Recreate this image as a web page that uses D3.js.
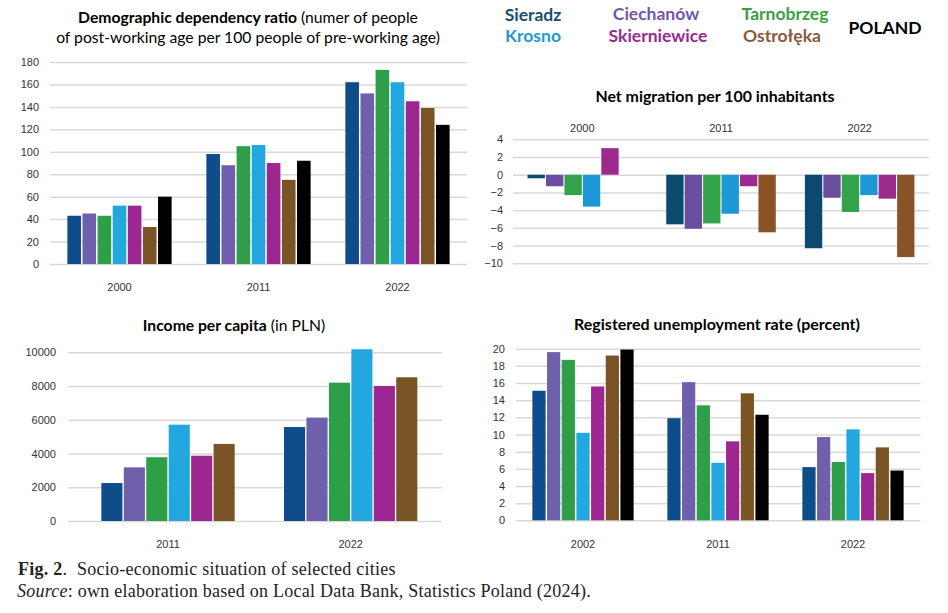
<!DOCTYPE html>
<html lang="en">

<head>
    <meta charset="UTF-8">
    <title>Socio-economic situation of selected cities</title>
    <style>
        body { margin: 0; background: #fff; }
    </style>
</head>

<body>
    <script type="text/javascript" src="https://cdn.jsdelivr.net/npm/d3@7"></script>
    <script type="text/javascript">
    var cities = ["Sieradz", "Ciechanów", "Tarnobrzeg", "Krosno", "Skierniewice", "Ostrołęka", "POLAND"];
    var barColors = ["#0f4c8a", "#7060ab", "#2f9e48", "#22a7df", "#9c2790", "#7a5424", "#000000"];
    var migColors = ["#0b4a6f", "#6c4ea0", "#34a24a", "#1d98d6", "#9b2a8c", "#8a5428"];
    var legendColors = ["#1a4e6e", "#7257a8", "#3c9e45", "#1f9ad4", "#9a2a8e", "#885a3d", "#000000"];

    // demographic dependency ratio
    var depYears = ["2000", "2011", "2022"];
    var depValues = [
        [43, 45, 43, 52, 52, 33, 60],
        [98, 88, 105, 106, 90, 75, 92],
        [162, 152, 173, 162, 145, 139, 124]
    ];
    var depTicks = [0, 20, 40, 60, 80, 100, 120, 140, 160, 180];

    // net migration (no POLAND bar, Ostrołęka missing in 2000)
    var migYears = ["2000", "2011", "2022"];
    var migValues = [
        [-0.4, -1.3, -2.3, -3.6, 3.0, null],
        [-5.6, -6.1, -5.5, -4.4, -1.3, -6.5],
        [-8.3, -2.6, -4.2, -2.3, -2.7, -9.3]
    ];
    var migTicks = [-10, -8, -6, -4, -2, 0, 2, 4];

    // income per capita
    var incYears = ["2011", "2022"];
    var incValues = [
        [2250, 3180, 3780, 5710, 3870, 4570],
        [5570, 6130, 8200, 10180, 8000, 8520]
    ];
    var incTicks = [0, 2000, 4000, 6000, 8000, 10000];

    // registered unemployment rate
    var unYears = ["2002", "2011", "2022"];
    var unValues = [
        [15.1, 19.6, 18.7, 10.2, 15.6, 19.2, 19.9],
        [11.9, 16.1, 13.4, 6.7, 9.2, 14.8, 12.3],
        [6.2, 9.7, 6.8, 10.6, 5.5, 8.5, 5.8]
    ];
    var unTicks = [0, 2, 4, 6, 8, 10, 12, 14, 16, 18, 20];

    var w = 948,
        h = 613,
        titleFont = "Lato, 'Open Sans', sans-serif",
        axisFont = "'Liberation Sans', Arial, sans-serif";

    var svg = d3.select("body")
        .append("svg")
        .attr("width", w)
        .attr("height", h);

    svg.append("rect")
        .attr("width", w)
        .attr("height", h)
        .attr("fill", "#fff");

    function drawPanel(p) {
        var g = svg.append("g");

        var y = d3.scaleLinear()
            .domain(p.yDomain)
            .range([p.bottom, p.top]);

        var x0 = d3.scaleBand()
            .domain(p.years)
            .range([p.bandLeft, p.bandRight])
            .paddingInner(p.groupPad)
            .paddingOuter(p.groupPad / 2);

        var x1 = d3.scaleBand()
            .domain(d3.range(p.values[0].length))
            .range([0, x0.bandwidth()])
            .paddingInner(p.barPad);

        // grid lines + tick labels
        var yAxis = g.append("g")
            .attr("transform", "translate(" + p.gridLeft + ",0)")
            .call(d3.axisLeft(y)
                .tickValues(p.ticks)
                .tickFormat(d3.format("d"))
                .tickSize(-(p.gridRight - p.gridLeft))
                .tickPadding(p.gridLeft - p.labelRight));
        yAxis.select(".domain").remove();
        yAxis.selectAll(".tick line")
            .attr("stroke", "#d9d9d9")
            .attr("stroke-width", 1.5);
        yAxis.selectAll(".tick text")
            .attr("font-family", axisFont)
            .attr("font-size", "11px")
            .attr("fill", "#333");

        // year labels
        var xAxis = g.append("g")
            .attr("transform", "translate(0," + p.yearY + ")")
            .call((p.yearsOnTop ? d3.axisTop(x0) : d3.axisBottom(x0)).tickSize(0).tickPadding(0));
        xAxis.select(".domain").remove();
        xAxis.selectAll(".tick text")
            .attr("font-family", axisFont)
            .attr("font-size", "11px")
            .attr("fill", "#333");

        var groups = g.selectAll(".grp")
            .data(p.values)
            .enter()
            .append("g")
            .attr("transform", function(d, i) {
                return "translate(" + x0(p.years[i]) + ",0)";
            });

        groups.selectAll("rect")
            .data(function(d) {
                return d.map(function(v, i) { return {i: i, v: v}; })
                    .filter(function(e) { return e.v !== null; });
            })
            .enter()
            .append("rect")
            .attr("x", function(d) { return x1(d.i); })
            .attr("y", function(d) { return y(Math.max(0, d.v)); })
            .attr("width", x1.bandwidth())
            .attr("height", function(d) { return Math.abs(y(d.v) - y(0)); })
            .attr("fill", function(d) { return p.colors[d.i]; });

        // title, bold part then normal part
        p.title.forEach(function(line) {
            var t = g.append("text")
                .attr("x", p.titleX)
                .attr("y", line.y)
                .attr("text-anchor", "middle")
                .attr("font-family", titleFont)
                .attr("font-size", p.titleSize)
                .attr("fill", "#000");
            line.parts.forEach(function(part) {
                t.append("tspan")
                    .attr("font-weight", part.bold ? "bold" : "normal")
                    .text(part.text);
            });
        });
    }

    drawPanel({
        years: depYears, values: depValues, ticks: depTicks, colors: barColors,
        yDomain: [0, 180], top: 62, bottom: 264,
        bandLeft: 50, bandRight: 467, gridLeft: 50, gridRight: 467, labelRight: 39,
        groupPad: 0.25, barPad: 0.1, yearY: 283,
        titleX: 248, titleSize: "15.7px",
        title: [
            {y: 23, parts: [{text: "Demographic dependency ratio", bold: true}, {text: " (numer of people"}]},
            {y: 43, parts: [{text: "of post-working age per 100 people of pre-working age)"}]}
        ]
    });

    drawPanel({
        years: migYears, values: migValues, ticks: migTicks, colors: migColors,
        yDomain: [-10, 4], top: 139.3, bottom: 263.3,
        bandLeft: 513, bandRight: 929, gridLeft: 513, gridRight: 929, labelRight: 503,
        groupPad: 0.21, barPad: 0.06, yearY: 132, yearsOnTop: true,
        titleX: 715, titleSize: "15.9px",
        title: [{y: 102, parts: [{text: "Net migration per 100 inhabitants", bold: true}]}]
    });

    drawPanel({
        years: incYears, values: incValues, ticks: incTicks, colors: barColors,
        yDomain: [0, 10000], top: 352.3, bottom: 521,
        bandLeft: 76.7, bandRight: 442, gridLeft: 68, gridRight: 442, labelRight: 56,
        groupPad: 0.27, barPad: 0.06, yearY: 540,
        titleX: 234, titleSize: "15.7px",
        title: [{y: 331, parts: [{text: "Income per capita", bold: true}, {text: " (in PLN)"}]}]
    });

    drawPanel({
        years: unYears, values: unValues, ticks: unTicks, colors: barColors,
        yDomain: [0, 20], top: 348.7, bottom: 520.3,
        bandLeft: 515.5, bandRight: 920.5, gridLeft: 515.5, gridRight: 920.5, labelRight: 505,
        groupPad: 0.25, barPad: 0.1, yearY: 540,
        titleX: 717, titleSize: "16px",
        title: [{y: 330, parts: [{text: "Registered unemployment rate (percent)", bold: true}]}]
    });

    // legend as coloured city names
    var legendPos = [[533, 21], [656, 20], [785, 20], [533, 42], [658, 42], [782, 42], [885, 34]];
    svg.append("g")
        .selectAll("text")
        .data(cities)
        .enter()
        .append("text")
        .attr("x", function(d, i) { return legendPos[i][0]; })
        .attr("y", function(d, i) { return legendPos[i][1]; })
        .attr("text-anchor", "middle")
        .attr("font-family", titleFont)
        .attr("font-weight", "bold")
        .attr("font-size", "17.5px")
        .attr("fill", function(d, i) { return legendColors[i]; })
        .text(function(d) { return d; });

    // caption
    var cap = svg.append("g")
        .attr("font-family", "'Liberation Serif', 'DejaVu Serif', serif")
        .attr("font-size", "18px")
        .attr("letter-spacing", "0.25px")
        .attr("fill", "#222");
    var fig = cap.append("text")
        .attr("x", 18).attr("y", 575);
    fig.append("tspan").attr("font-weight", "bold").text("Fig. 2");
    fig.append("tspan").text(".");
    fig.append("tspan").attr("x", 77).text("Socio-economic situation of selected cities");
    var src = cap.append("text")
        .attr("x", 17).attr("y", 597);
    src.append("tspan").attr("font-style", "italic").text("Source");
    src.append("tspan").text(": own elaboration based on Local Data Bank, Statistics Poland (2024).");
    </script>
</body>

</html>
